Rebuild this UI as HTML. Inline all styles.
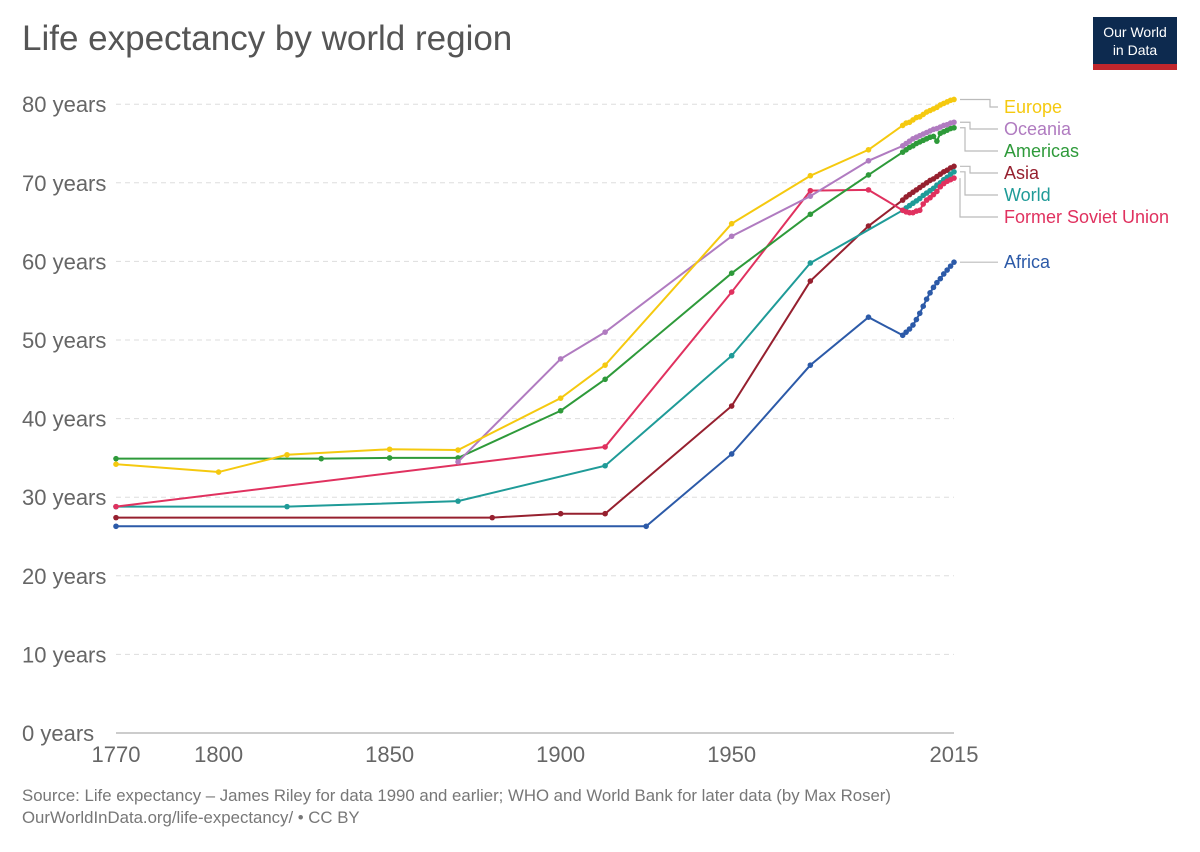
<!DOCTYPE html>
<html><head><meta charset="utf-8"><style>
body{margin:0;background:#fff;font-family:"Liberation Sans",sans-serif;}
svg text{font-family:"Liberation Sans",sans-serif;}
</style></head><body>
<svg id="c" width="1200" height="847">
<text x="22" y="50" font-size="35" fill="#555">Life expectancy by world region</text>
<g><rect x="1093" y="17" width="84" height="53" fill="#0d2a4f"/><rect x="1093" y="64" width="84" height="6" fill="#c0262c"/><text x="1135" y="37" font-size="14" fill="#fff" text-anchor="middle">Our World</text><text x="1135" y="55" font-size="14" fill="#fff" text-anchor="middle">in Data</text></g>
<text x="22" y="801" font-size="16.8" fill="#777">Source: Life expectancy – James Riley for data 1990 and earlier; WHO and World Bank for later data (by Max Roser)</text>
<text x="22" y="823" font-size="16.8" fill="#777">OurWorldInData.org/life-expectancy/ • CC BY</text>
<g id="grid"></g><g id="series"></g><g id="labels"></g>
</svg>
<script>
const yTicks=[0,10,20,30,40,50,60,70,80];
const xTicks=[1770,1800,1850,1900,1950,2015];
const recentYears=[2000,2001,2002,2003,2004,2005,2006,2007,2008,2009,2010,2011,2012,2013,2014,2015];
const names=["Europe","Oceania","Americas","Asia","World","Former Soviet Union","Africa"];
const colors=["#f5c90f","#b07bc0","#2e9a3a","#96202f","#1f9b98","#e0315f","#2c5aa8"];
const europeYears=[1770,1800,1820,1850,1870,1900,1913,1950,1973,1990];
const europeVals=[34.2,33.2,35.4,36.1,36.0,42.6,46.8,64.8,70.9,74.2];
const europeRecent=[77.3,77.6,77.7,78.0,78.3,78.4,78.7,79.0,79.2,79.4,79.6,79.9,80.1,80.3,80.5,80.6];
const oceaniaYears=[1870,1900,1913,1950,1973,1990];
const oceaniaVals=[34.5,47.6,51.0,63.2,68.3,72.8];
const oceaniaRecent=[74.7,75.0,75.3,75.6,75.8,76.0,76.2,76.4,76.6,76.8,76.9,77.1,77.3,77.4,77.6,77.7];
const americasYears=[1770,1830,1850,1870,1900,1913,1950,1973,1990];
const americasVals=[34.9,34.9,35.0,35.0,41.0,45.0,58.5,66.0,71.0];
const americasRecent=[73.9,74.2,74.5,74.7,75.0,75.2,75.4,75.6,75.8,75.9,75.3,76.3,76.5,76.7,76.9,77.0];
const asiaYears=[1770,1880,1900,1913,1950,1973,1990];
const asiaVals=[27.4,27.4,27.9,27.9,41.6,57.5,64.5];
const asiaRecent=[67.8,68.2,68.5,68.8,69.1,69.4,69.7,70.0,70.3,70.5,70.8,71.1,71.4,71.6,71.9,72.1];
const worldYears=[1770,1820,1870,1913,1950,1973];
const worldVals=[28.8,28.8,29.5,34.0,48.0,59.8];
const worldRecent=[66.5,66.8,67.1,67.4,67.7,68.0,68.4,68.7,69.0,69.3,69.7,70.0,70.4,70.7,71.1,71.4];
const fsuYears=[1770,1913,1950,1973,1990];
const fsuVals=[28.8,36.4,56.1,69.0,69.1];
const fsuRecent=[66.5,66.3,66.2,66.2,66.4,66.5,67.3,67.8,68.1,68.5,68.9,69.5,69.9,70.2,70.4,70.6];
const africaYears=[1770,1925,1950,1973,1990];
const africaVals=[26.3,26.3,35.5,46.8,52.9];
const africaRecent=[50.6,51.0,51.4,51.9,52.6,53.4,54.3,55.2,56.0,56.7,57.3,57.8,58.4,58.9,59.4,59.9];
const labelY=[107,129,151,173,195,217,262];

const X=y=>116+(y-1770)*(838/245);
const Y=v=>733-v*7.86;
const NS="http://www.w3.org/2000/svg";
function mk(t,a,p){const e=document.createElementNS(NS,t);for(const k in a)e.setAttribute(k,a[k]);p.appendChild(e);return e;}
const grid=document.getElementById('grid'),ser=document.getElementById('series'),lab=document.getElementById('labels');
yTicks.forEach(v=>{
 if(v>0){const l=mk('line',{x1:116,x2:954,y1:Y(v),y2:Y(v),stroke:'#ddd','stroke-dasharray':'5,4'},grid);
 
 }
 const t=mk('text',{x:22,y:Y(v)+8,'font-size':22,fill:'#666'},grid);t.textContent=v+' years';
 
 
});
mk('line',{x1:116,x2:954,y1:733,y2:733,stroke:'#999'},grid);
xTicks.forEach(y=>{
 const t=mk('text',{x:X(y),y:762,'font-size':22,fill:'#666','text-anchor':'middle'},grid);t.textContent=y;
 
 
});
const data=[[europeYears,europeVals,europeRecent],[oceaniaYears,oceaniaVals,oceaniaRecent],[americasYears,americasVals,americasRecent],[asiaYears,asiaVals,asiaRecent],[worldYears,worldVals,worldRecent],[fsuYears,fsuVals,fsuRecent],[africaYears,africaVals,africaRecent]];
const order=[6,3,4,5,2,1,0];
order.forEach(i=>{
 const [ys,vs,rv]=data[i];const yrs=ys.concat(recentYears),vals=vs.concat(rv);
 const g=mk('g',{},ser);
 
 
 mk('polyline',{points:yrs.map((y,k)=>X(y)+','+Y(vals[k])).join(' '),fill:'none',stroke:colors[i],'stroke-width':2},g);
 yrs.forEach((y,k)=>{const c=mk('circle',{cx:X(y),cy:Y(vals[k]),r:2.8,fill:colors[i]},g);
  
  });
});
const elbow=[990,970,965,970,965,960,0];
names.forEach((n,i)=>{
 const [ys,vs,rv]=data[i];const ey=Y(rv[rv.length-1]);
 if(elbow[i]) mk('polyline',{points:`960,${ey} ${elbow[i]},${ey} ${elbow[i]},${labelY[i]} 998,${labelY[i]}`,fill:'none',stroke:'#bbb','stroke-width':1.2},lab);
 else mk('line',{x1:960,x2:998,y1:ey,y2:ey,stroke:'#bbb','stroke-width':1.2},lab);
 const t=mk('text',{x:1004,y:labelY[i]+6,'font-size':18,fill:colors[i]},lab);t.textContent=n;
 
 
});
</script>
</body></html>
